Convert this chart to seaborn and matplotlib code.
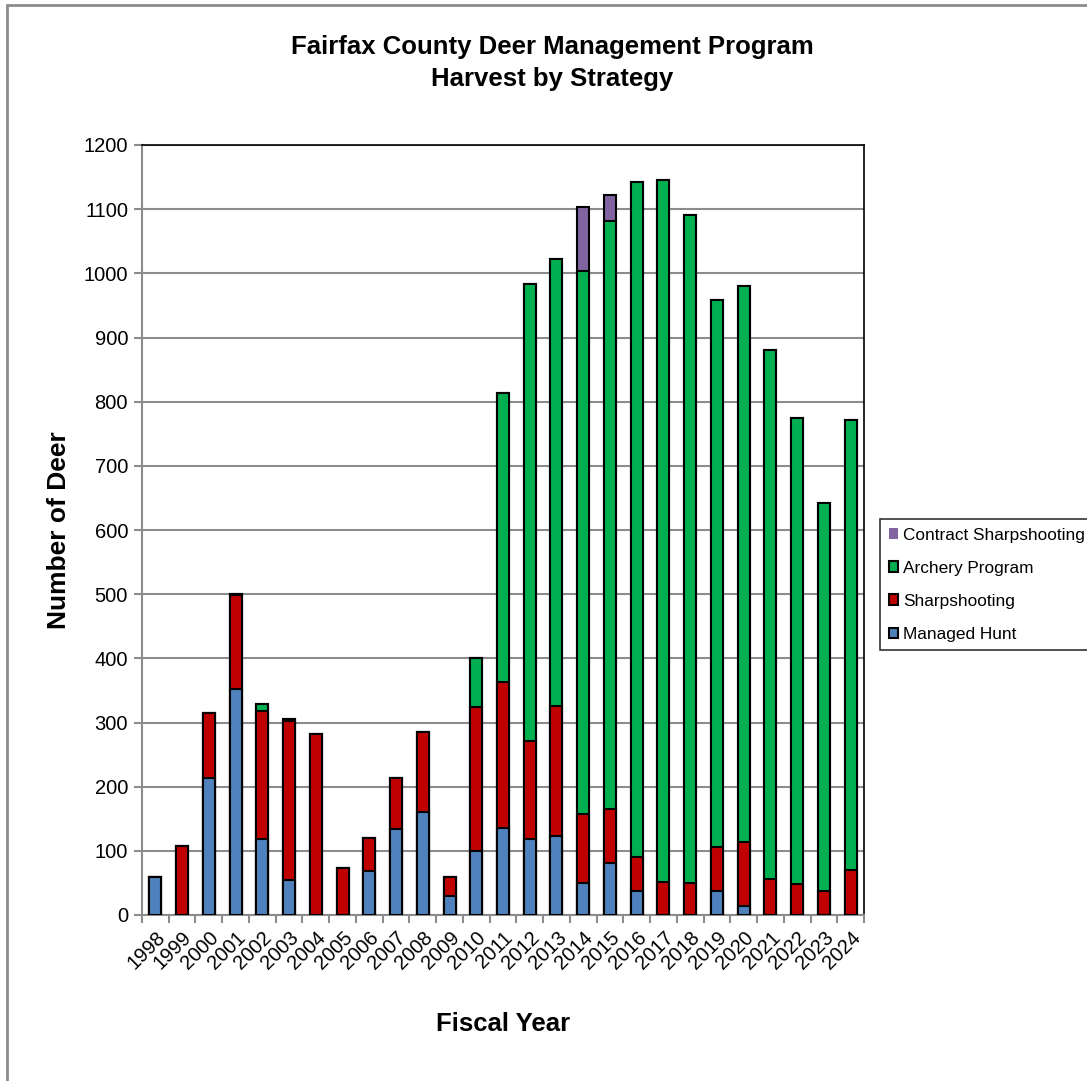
import numpy as np
import pandas as pd
import seaborn as sns
import matplotlib
matplotlib.use('Agg')
import matplotlib.pyplot as plt
from matplotlib.patches import Patch
from matplotlib.lines import Line2D

sns.set_style('white')
plt.rcParams['font.family'] = ['Liberation Sans', 'DejaVu Sans']
plt.rcParams['text.color'] = 'black'
plt.rcParams['axes.labelcolor'] = 'black'
plt.rcParams['xtick.color'] = 'black'
plt.rcParams['ytick.color'] = 'black'

# Harvest by strategy
years = [str(y) for y in range(1998, 2025)]
managed_hunt = [59, 0, 214, 352, 118, 55, 0, 0, 68, 134, 160, 30, 100, 135, 118, 123,
                50, 81, 37, 0, 0, 37, 14, 0, 0, 0, 0]
sharpshooting = [0, 108, 101, 146, 200, 248, 282, 74, 52, 80, 125, 29, 224, 228, 153, 202,
                 107, 84, 53, 52, 50, 69, 100, 56, 49, 38, 70]
archery = [0, 0, 0, 3, 11, 3, 0, 0, 0, 0, 0, 0, 76, 451, 712, 698,
           847, 917, 1052, 1093, 1041, 853, 867, 824, 725, 604, 702]
contract = [0, 0, 0, 0, 0, 0, 0, 0, 0, 0, 0, 0, 0, 0, 0, 0,
            99, 40, 0, 0, 0, 0, 0, 0, 0, 0, 0]

series = ['Managed Hunt', 'Sharpshooting', 'Archery Program', 'Contract Sharpshooting']
colors = {'Managed Hunt': '#4F81BD', 'Sharpshooting': '#C00000',
          'Archery Program': '#00B050', 'Contract Sharpshooting': '#8064A2'}

df = pd.DataFrame({'year': years, 'Managed Hunt': managed_hunt,
                   'Sharpshooting': sharpshooting, 'Archery Program': archery,
                   'Contract Sharpshooting': contract})
# cumulative heights so the bars can be overlaid to look stacked
cum = df[series].cumsum(axis=1)
cum['year'] = df['year']

fig = plt.figure(figsize=(10.87, 10.81), dpi=100)
ax = fig.add_axes([142 / 1087, 1 - 915 / 1081, 722 / 1087, 770 / 1081])

for s in reversed(series):
    sns.barplot(data=cum, x='year', y=s, color=colors[s], width=0.45,
                edgecolor='black', linewidth=1.5, saturation=1, ax=ax, zorder=3)

ax.set_xlim(-0.5, 26.5)
ax.set_ylim(0, 1200)
ax.set_yticks(range(0, 1201, 100))
ax.yaxis.grid(True, color='#8c8c8c', linewidth=1.5, zorder=0)
ax.set_axisbelow(True)

# x labels at centers, tick marks between categories
ax.set_xticks(range(len(years)))
ax.set_xticklabels(years, rotation=45, ha='right', rotation_mode='anchor', fontsize=14.5)
ax.set_xticks(np.arange(-0.5, 27, 1), minor=True)
ax.tick_params(axis='x', which='major', length=0, pad=9)
ax.tick_params(axis='x', which='minor', length=6, color='#8c8c8c', width=1.5, direction='out', bottom=True)
ax.tick_params(axis='y', length=6, color='#8c8c8c', width=1.5, direction='out', left=True, labelsize=14.5, pad=4)

for side in ['left', 'bottom']:
    ax.spines[side].set_color('#8c8c8c')
    ax.spines[side].set_linewidth(1.5)
for side in ['top', 'right']:
    ax.spines[side].set_color('black')
    ax.spines[side].set_linewidth(1.2)

ax.set_xlabel('Fiscal Year', fontsize=18.5, fontweight='bold', labelpad=28)
ax.set_ylabel('Number of Deer', fontsize=19, fontweight='bold', labelpad=9)

fig.text(552 / 1087, 1 - 63 / 1081, 'Fairfax County Deer Management Program\nHarvest by Strategy',
         ha='center', va='center', fontsize=18.5, fontweight='bold', linespacing=1.4)

# legend
handles = [Patch(facecolor=colors['Contract Sharpshooting'], edgecolor='none'),
           Patch(facecolor=colors['Archery Program'], edgecolor='black', linewidth=1.5),
           Patch(facecolor=colors['Sharpshooting'], edgecolor='black', linewidth=1.5),
           Patch(facecolor=colors['Managed Hunt'], edgecolor='black', linewidth=1.5)]
labels = ['Contract Sharpshooting', 'Archery Program', 'Sharpshooting', 'Managed Hunt']
leg = fig.legend(handles, labels, loc='upper left', bbox_to_anchor=(880 / 1087, 1 - 519 / 1081),
                 fontsize=12.4, frameon=True, fancybox=False, handlelength=0.55, handleheight=0.55,
                 handletextpad=0.3, labelspacing=1.05, borderpad=0.5, borderaxespad=0)
leg.get_frame().set_edgecolor('black')
leg.get_frame().set_linewidth(1.2)

# outer chart frame
fig.add_artist(Line2D([7 / 1087, 7 / 1087], [0, 1 - 5 / 1081], color='#8c8c8c', linewidth=2, transform=fig.transFigure))
fig.add_artist(Line2D([7 / 1087, 1], [1 - 5 / 1081, 1 - 5 / 1081], color='#8c8c8c', linewidth=2, transform=fig.transFigure))

fig.savefig('out.png', dpi=100)
